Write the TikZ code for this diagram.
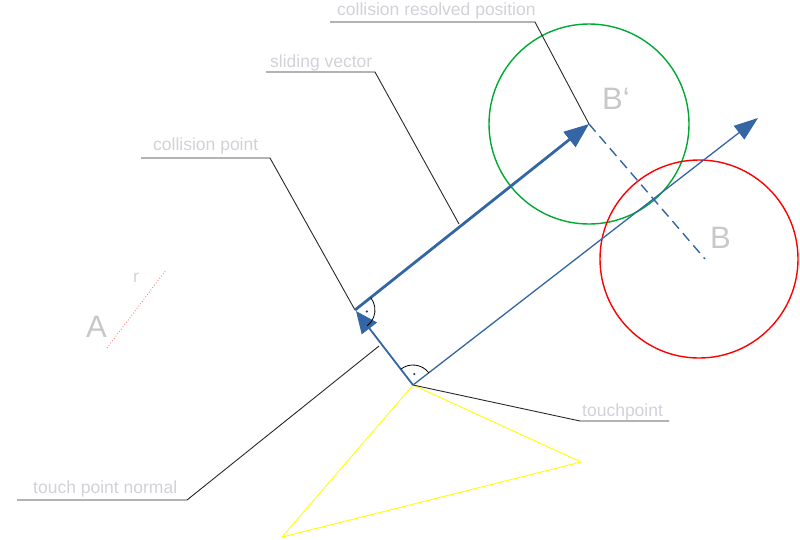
\documentclass[tikz,border=0pt]{standalone}
\usepackage{fontspec}
\newfontfamily\labfont{Liberation Sans}
\usetikzlibrary{arrows.meta}
\definecolor{lblue}{RGB}{52,101,164}
\definecolor{lgreen}{RGB}{0,169,51}
\definecolor{lred}{RGB}{255,0,0}
\definecolor{lyellow}{RGB}{255,255,0}
\definecolor{lpink}{RGB}{255,128,128}
\definecolor{labgray}{RGB}{212,208,216}
\definecolor{biggray}{RGB}{200,200,200}
\definecolor{leadgray}{RGB}{40,40,40}
\tikzset{
  lab/.style={anchor=base west,inner sep=0pt,text=labgray,font=\labfont\fontsize{17.5}{20}\selectfont},
  biglab/.style={anchor=base west,inner sep=0pt,text=biggray,font=\labfont\fontsize{31}{34}\selectfont},
  leader/.style={draw=leadgray,line width=0.9pt},
  vecline/.style={draw=lblue,line width=1.3pt},
  markarc/.style={draw=black,line width=0.8pt},
  markdot/.style={fill=lblue!60!black,draw=none},
}
\begin{document}
\begin{tikzpicture}[x=1pt,y=-1pt]
\useasboundingbox (0,0) rectangle (800,539);
% key points
\coordinate (tp) at (413,385);
\coordinate (cp) at (355,310);
\coordinate (bp) at (589,124);
\coordinate (bc) at (699,259);
\coordinate (dend) at (705,259);
\coordinate (ltip) at (758,118);
\coordinate (ntip) at (356,311);
% circles
\draw[lgreen,line width=1.4pt] (bp) circle[radius=100pt];
\draw[lred,line width=1.4pt] (bc) circle[radius=99pt];
% yellow triangle
\coordinate (y2) at (581,462);
\coordinate (y3) at (282,537);
\draw[lyellow,line width=0.9pt] (tp) -- (y2) -- (y3) -- cycle;
% A and radius
\coordinate (ra) at (107,348);
\coordinate (rb) at (166,270);
\draw[lpink,line width=0.9pt,dotted] (ra) -- (rb);
\node[biglab] (A) at (86,337) {A};
\node[lab] (r) at (133,282) {r};
\node[biglab] (B) at (710,248) {B};
\node[biglab] (Bp) at (602,109) {B‘};
% leaders
\coordinate (l1a) at (330,22); \coordinate (l1b) at (535,22);
\draw[leader] (l1a) -- (l1b) -- (bp);
\coordinate (l2a) at (266,72); \coordinate (l2b) at (375,72); \coordinate (l2c) at (459,224);
\draw[leader] (l2a) -- (l2b) -- (l2c);
\coordinate (l3a) at (141,158); \coordinate (l3b) at (270,158);
\draw[leader] (l3a) -- (l3b) -- (cp);
\coordinate (l4a) at (580,421); \coordinate (l4b) at (669,421);
\draw[leader] (tp) -- (l4a) -- (l4b);
\coordinate (l5a) at (17,500); \coordinate (l5b) at (187,500); \coordinate (l5c) at (379,346);
\draw[leader] (l5a) -- (l5b) -- (l5c);
\node[lab] (t1) at (337,15) {collision resolved position};
\node[lab] (t2) at (270,67) {sliding vector};
\node[lab] (t3) at (153,150) {collision point};
\node[lab] (t4) at (582,416) {touchpoint};
\node[lab] (t5) at (33,493) {touch point normal};
% vectors
\draw[vecline,line width=1.3pt,-{Triangle[length=24pt,width=17pt]}] (tp) -- (ltip);
\draw[vecline,line width=2.8pt,-{Triangle[length=25pt,width=19pt]}] (cp) -- (bp);
\draw[vecline,line width=1.8pt,-{Triangle[length=22pt,width=19pt]}] (tp) -- (ntip);
\draw[vecline,line width=1.4pt,dash pattern=on 10pt off 6pt] (bp) -- (dend);
% right angle marks
\draw[markarc] (cp) ++(38.5:20pt) arc[start angle=38.5,end angle=-52.3,radius=20pt];
\fill[markdot] (cp) ++(-7:12pt) circle[radius=1.2pt];
\draw[markarc] (tp) ++(37.7:20pt) arc[start angle=37.7,end angle=127.7,radius=20pt];
\fill[markdot] (tp) ++(83:11pt) circle[radius=1.2pt];
\end{tikzpicture}
\end{document}
